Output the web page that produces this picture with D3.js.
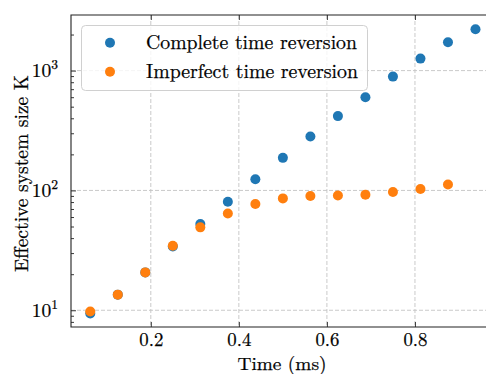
<!DOCTYPE html>
<html>
<head>
<meta charset="utf-8">
<script src="https://cdn.jsdelivr.net/npm/d3@7"></script>
<style>
  body { margin: 0; background: #fff; }
  #chart { width: 486px; height: 374px; }
  text { stroke: #000; stroke-width: 0.25px; }
</style>
</head>
<body>
<div id="chart"></div>
<script>

// time points (ms)
const times = [0.0625, 0.125, 0.1875, 0.25, 0.3125, 0.375, 0.4375, 0.5, 0.5625, 0.625, 0.6875, 0.75, 0.8125, 0.875, 0.9375];

// effective system size K
const complete = [9.4, 13.5, 20.7, 34, 52.5, 80.5, 124, 187, 282, 417, 600, 891, 1259, 1725, 2213];
const imperfect = [9.75, 13.5, 20.7, 34.6, 49.2, 64.3, 77, 85.8, 89.8, 90.8, 92, 97, 102.8, 112];

const seriesNames = ["Complete time reversion", "Imperfect time reversion"];
const seriesColors = ["#1f77b4", "#ff7f0e"];

const xTicks = [0.2, 0.4, 0.6, 0.8];
const yTicks = [10, 100, 1000];

const serif = "'Latin Modern Roman'";
const fontSize = "19.5px";

const width = 486;
const height = 374;

const svg = d3.select("#chart")
    .append("svg")
    .attr("width", width)
    .attr("height", height);

const plot = { left: 71, right: 494.75, top: 15, bottom: 327 };

const xScale = d3.scaleLinear()
    .domain([0.01875, 0.98125])
    .range([plot.left, plot.right]);

const yScale = d3.scaleLog()
    .domain([7.25, 2911])
    .range([plot.bottom, plot.top]);

// grid
const gridColor = "#c4c4c4";
svg.append("g").selectAll("line")
    .data(xTicks)
    .enter()
    .append("line")
        .attr("x1", d => xScale(d))
        .attr("x2", d => xScale(d))
        .attr("y1", plot.top)
        .attr("y2", plot.bottom)
        .attr("stroke", gridColor)
        .attr("stroke-width", 0.9)
        .attr("stroke-dasharray", "4,2");

svg.append("g").selectAll("line")
    .data(yTicks)
    .enter()
    .append("line")
        .attr("x1", plot.left)
        .attr("x2", plot.right)
        .attr("y1", d => yScale(d))
        .attr("y2", d => yScale(d))
        .attr("stroke", gridColor)
        .attr("stroke-width", 0.9)
        .attr("stroke-dasharray", "4,2");

// points
svg.append("g").selectAll("circle")
    .data(complete)
    .enter()
    .append("circle")
        .attr("cx", (d, i) => xScale(times[i]))
        .attr("cy", d => yScale(d))
        .attr("r", 5)
        .attr("fill", seriesColors[0]);

svg.append("g").selectAll("circle")
    .data(imperfect)
    .enter()
    .append("circle")
        .attr("cx", (d, i) => xScale(times[i]))
        .attr("cy", d => yScale(d))
        .attr("r", 5)
        .attr("fill", seriesColors[1]);

// axes, ticks pointing inward
const gx = svg.append("g")
    .attr("transform", `translate(0,${plot.bottom})`)
    .call(d3.axisBottom(xScale)
        .tickValues(xTicks)
        .tickSize(-5)
        .tickPadding(6)
        .tickFormat(d3.format(".1f")));
gx.select(".domain").remove();
gx.selectAll("text")
    .style("font-family", serif)
    .style("font-size", "18.8px")
    .attr("fill", "#000");

const gxTop = svg.append("g")
    .attr("transform", `translate(0,${plot.top})`)
    .call(d3.axisTop(xScale).tickValues(xTicks).tickSize(-5).tickFormat(""));
gxTop.select(".domain").remove();

const minorY = [];
[1, 10, 100, 1000].forEach(function(p) {
    for (let k = 2; k <= 9; k++) {
        const v = k * p;
        if (v > 7.25 && v < 2911) minorY.push(v);
    }
});

const gyMinor = svg.append("g")
    .attr("transform", `translate(${plot.left},0)`)
    .call(d3.axisLeft(yScale).tickValues(minorY).tickSize(-3).tickFormat(""));
gyMinor.select(".domain").remove();

const gy = svg.append("g")
    .attr("transform", `translate(${plot.left},0)`)
    .call(d3.axisLeft(yScale).tickValues(yTicks).tickSize(-5).tickFormat(""));
gy.select(".domain").remove();
svg.selectAll(".tick line").attr("stroke", "#222").attr("stroke-width", 0.9);

// y tick labels as 10^n
const yLabels = svg.append("g").selectAll("text")
    .data(yTicks)
    .enter()
    .append("text")
        .attr("x", 58)
        .attr("y", d => yScale(d) + 6.5)
        .attr("text-anchor", "end")
        .attr("fill", "#000")
        .style("font-family", serif)
        .style("font-size", fontSize);
yLabels.append("tspan").text("10");
yLabels.append("tspan")
    .style("font-size", "13.5px")
    .attr("dy", -8)
    .text(d => Math.round(Math.log10(d)));

// spines
svg.append("path")
    .attr("d", `M${plot.right},${plot.top}H${plot.left}V${plot.bottom}H${plot.right}`)
    .attr("fill", "none")
    .attr("stroke", "#222")
    .attr("stroke-width", 1.1);

// legend
const legend = svg.append("g");
legend.append("rect")
    .attr("x", 81.5)
    .attr("y", 25.5)
    .attr("width", 286)
    .attr("height", 65)
    .attr("rx", 4)
    .attr("fill", "white")
    .attr("fill-opacity", 0.8)
    .attr("stroke", "#d0d0d0")
    .attr("stroke-width", 1);

const legendRows = [42.7, 71.7];
seriesNames.forEach(function(name, i) {
    legend.append("circle")
        .attr("cx", 110)
        .attr("cy", legendRows[i])
        .attr("r", 5)
        .attr("fill", seriesColors[i]);
    legend.append("text")
        .attr("x", 146)
        .attr("y", legendRows[i] + 6.5)
        .attr("fill", "#000")
        .style("font-family", serif)
        .style("font-size", fontSize)
        .attr("textLength", i === 0 ? 211 : 212)
        .attr("lengthAdjust", "spacingAndGlyphs")
        .text(name);
});

// axis labels
svg.append("text")
    .attr("x", 282)
    .attr("y", 370)
    .attr("text-anchor", "middle")
    .attr("fill", "#000")
    .style("font-family", serif)
    .style("font-size", "18px")
    .attr("textLength", 89)
    .attr("lengthAdjust", "spacingAndGlyphs")
    .text("Time (ms)");

svg.append("text")
    .attr("transform", "rotate(-90)")
    .attr("x", -173.5)
    .attr("y", 28)
    .attr("text-anchor", "middle")
    .attr("fill", "#000")
    .style("font-family", serif)
    .style("font-size", fontSize)
    .attr("textLength", 197)
    .attr("lengthAdjust", "spacingAndGlyphs")
    .text("Effective system size K");

</script>
</body>
</html>
